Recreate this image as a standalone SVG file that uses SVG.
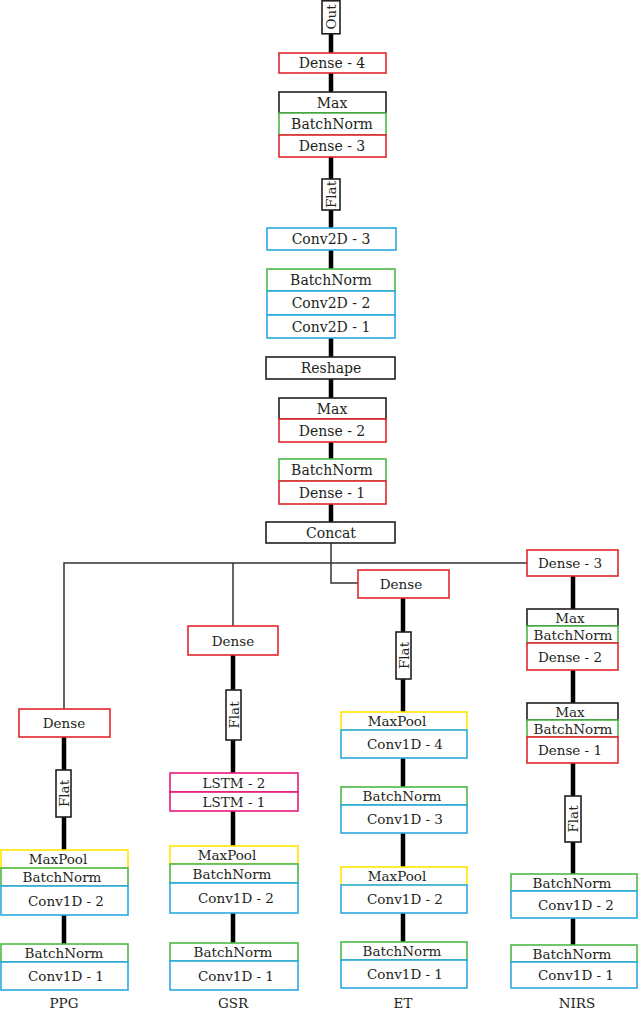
<svg xmlns="http://www.w3.org/2000/svg" width="638" height="1011" viewBox="0 0 638 1011">
<style>
.b{fill:#fff;stroke-width:1.6}
.k{stroke:#231f20}.r{stroke:#e2262c}.g{stroke:#4db848}.c{stroke:#2aa9e0}.y{stroke:#ffe600}.p{stroke:#e8197b}
.t{font-family:"DejaVu Serif","Liberation Serif",serif;font-size:14px;fill:#231f20;text-anchor:middle;dominant-baseline:central}
.s{font-size:13.5px}
.thick{stroke:#000;stroke-width:4.5;fill:none}
.thin{stroke:#333;stroke-width:1.5;fill:none}
</style>
<g id="connectors">
<path class="thick" d="M331 34V522"/>
<path class="thick" d="M64 737V944"/>
<path class="thick" d="M233 655V943"/>
<path class="thick" d="M403 598V942"/>
<path class="thick" d="M573 576V945"/>
<path class="thin" d="M331 543V583H358"/>
<path class="thin" d="M64 709V563H527"/>
<path class="thin" d="M233 563V626"/>
</g>
<g id="out"><rect class="b k" x="322" y="0.8" width="18" height="33"/><text class="t s" transform="translate(331 17) rotate(-90)">Out</text></g>
<g id="dense4"><rect class="b r" x="279" y="53" width="107" height="20"/><text class="t" x="332" y="63">Dense - 4</text></g>
<g id="max3"><rect class="b k" x="279" y="92" width="107" height="21"/><text class="t" x="332" y="102.5">Max</text></g>
<g id="bn3"><rect class="b g" x="279" y="113" width="107" height="22"/><text class="t" x="332" y="124">BatchNorm</text></g>
<g id="dense3"><rect class="b r" x="279" y="135" width="107" height="22"/><text class="t" x="332" y="146">Dense - 3</text></g>
<g id="flatTop"><rect class="b k" x="322" y="179" width="18" height="31"/><text class="t s" transform="translate(331 194.5) rotate(-90)">Flat</text></g>
<g id="conv2d3"><rect class="b c" x="267" y="228" width="129" height="22"/><text class="t" x="331" y="239">Conv2D - 3</text></g>
<g id="bn2d"><rect class="b g" x="267" y="269" width="128" height="22"/><text class="t" x="331" y="280">BatchNorm</text></g>
<g id="conv2d2"><rect class="b c" x="267" y="291" width="128" height="24"/><text class="t" x="331" y="303">Conv2D - 2</text></g>
<g id="conv2d1"><rect class="b c" x="267" y="315" width="128" height="23"/><text class="t" x="331" y="326.5">Conv2D - 1</text></g>
<g id="reshape"><rect class="b k" x="266" y="357" width="129" height="22"/><text class="t" x="331" y="368">Reshape</text></g>
<g id="max2"><rect class="b k" x="279" y="398" width="107" height="21"/><text class="t" x="332" y="408.5">Max</text></g>
<g id="dense2"><rect class="b r" x="279" y="419" width="107" height="23"/><text class="t" x="332" y="430.5">Dense - 2</text></g>
<g id="bn1"><rect class="b g" x="279" y="459" width="107" height="22"/><text class="t" x="332" y="470">BatchNorm</text></g>
<g id="dense1"><rect class="b r" x="279" y="481" width="107" height="23"/><text class="t" x="332" y="492.5">Dense - 1</text></g>
<g id="concat"><rect class="b k" x="266" y="522" width="129" height="21"/><text class="t" x="331" y="532.5">Concat</text></g>
<g id="ppgDense"><rect class="b r" x="19" y="709" width="91" height="28"/><text class="t s" x="64" y="723">Dense</text></g>
<g id="ppgFlat"><rect class="b k" x="56" y="770" width="15" height="47"/><text class="t s" transform="translate(63.5 793.5) rotate(-90)">Flat</text></g>
<g id="ppgMaxPool"><rect class="b y" x="1" y="850" width="127" height="18"/><text class="t s" x="58" y="859">MaxPool</text></g>
<g id="ppgBN2"><rect class="b g" x="1" y="868" width="127" height="18"/><text class="t s" x="62" y="877">BatchNorm</text></g>
<g id="ppgConv2"><rect class="b c" x="1" y="886" width="127" height="29"/><text class="t s" x="66" y="900.5">Conv1D - 2</text></g>
<g id="ppgBN1"><rect class="b g" x="1" y="944" width="127" height="18"/><text class="t s" x="64" y="953">BatchNorm</text></g>
<g id="ppgConv1"><rect class="b c" x="1" y="962" width="127" height="28"/><text class="t s" x="66" y="976">Conv1D - 1</text></g>
<text class="t s" x="64" y="1003">PPG</text>
<g id="gsrDense"><rect class="b r" x="188" y="626" width="90" height="29"/><text class="t s" x="233" y="640.5">Dense</text></g>
<g id="gsrFlat"><rect class="b k" x="226" y="690" width="15" height="50"/><text class="t s" transform="translate(233.5 715) rotate(-90)">Flat</text></g>
<g id="gsrLstm2"><rect class="b p" x="170" y="773" width="128" height="19"/><text class="t s" x="234" y="782.5">LSTM - 2</text></g>
<g id="gsrLstm1"><rect class="b p" x="170" y="792" width="128" height="19"/><text class="t s" x="234" y="801.5">LSTM - 1</text></g>
<g id="gsrMaxPool"><rect class="b y" x="170" y="846" width="128" height="18"/><text class="t s" x="227" y="855">MaxPool</text></g>
<g id="gsrBN2"><rect class="b g" x="170" y="864" width="128" height="19"/><text class="t s" x="232" y="873.5">BatchNorm</text></g>
<g id="gsrConv2"><rect class="b c" x="170" y="883" width="128" height="30"/><text class="t s" x="236" y="898">Conv1D - 2</text></g>
<g id="gsrBN1"><rect class="b g" x="170" y="943" width="128" height="18"/><text class="t s" x="233" y="952">BatchNorm</text></g>
<g id="gsrConv1"><rect class="b c" x="170" y="961" width="128" height="29"/><text class="t s" x="236" y="975.5">Conv1D - 1</text></g>
<text class="t s" x="233" y="1003">GSR</text>
<g id="etDense"><rect class="b r" x="358" y="570" width="91" height="28"/><text class="t s" x="401" y="584">Dense</text></g>
<g id="etFlat"><rect class="b k" x="396" y="632" width="15" height="47"/><text class="t s" transform="translate(403.5 655.5) rotate(-90)">Flat</text></g>
<g id="etMaxPool4"><rect class="b y" x="341" y="712" width="126" height="18"/><text class="t s" x="397" y="721">MaxPool</text></g>
<g id="etConv4"><rect class="b c" x="341" y="730" width="126" height="28"/><text class="t s" x="405" y="744">Conv1D - 4</text></g>
<g id="etBN3"><rect class="b g" x="341" y="787" width="126" height="18"/><text class="t s" x="402" y="796">BatchNorm</text></g>
<g id="etConv3"><rect class="b c" x="341" y="805" width="126" height="28"/><text class="t s" x="405" y="819">Conv1D - 3</text></g>
<g id="etMaxPool2"><rect class="b y" x="341" y="867" width="126" height="18"/><text class="t s" x="397" y="876">MaxPool</text></g>
<g id="etConv2"><rect class="b c" x="341" y="885" width="126" height="28"/><text class="t s" x="405" y="899">Conv1D - 2</text></g>
<g id="etBN1"><rect class="b g" x="341" y="942" width="126" height="18"/><text class="t s" x="402" y="951">BatchNorm</text></g>
<g id="etConv1"><rect class="b c" x="341" y="960" width="126" height="28"/><text class="t s" x="405" y="974">Conv1D - 1</text></g>
<text class="t s" x="403" y="1003">ET</text>
<g id="nirsDense3"><rect class="b r" x="527" y="550" width="91" height="26"/><text class="t s" x="570" y="563">Dense - 3</text></g>
<g id="nirsMax2"><rect class="b k" x="527" y="609" width="91" height="17"/><text class="t s" x="570" y="617.5">Max</text></g>
<g id="nirsBN2"><rect class="b g" x="527" y="626" width="91" height="17"/><text class="t s" x="573" y="634.5">BatchNorm</text></g>
<g id="nirsDense2"><rect class="b r" x="527" y="643" width="91" height="27"/><text class="t s" x="570" y="656.5">Dense - 2</text></g>
<g id="nirsMax1"><rect class="b k" x="527" y="703" width="91" height="17"/><text class="t s" x="570" y="711.5">Max</text></g>
<g id="nirsBN1"><rect class="b g" x="527" y="720" width="91" height="17"/><text class="t s" x="573" y="728.5">BatchNorm</text></g>
<g id="nirsDense1"><rect class="b r" x="527" y="737" width="91" height="26"/><text class="t s" x="570" y="750">Dense - 1</text></g>
<g id="nirsFlat"><rect class="b k" x="565" y="796" width="16" height="46"/><text class="t s" transform="translate(573 819) rotate(-90)">Flat</text></g>
<g id="nirsBNb"><rect class="b g" x="511" y="874" width="126" height="17"/><text class="t s" x="572" y="882.5">BatchNorm</text></g>
<g id="nirsConv2"><rect class="b c" x="511" y="891" width="126" height="27"/><text class="t s" x="576" y="904.5">Conv1D - 2</text></g>
<g id="nirsBNa"><rect class="b g" x="511" y="945" width="126" height="17"/><text class="t s" x="572" y="953.5">BatchNorm</text></g>
<g id="nirsConv1"><rect class="b c" x="511" y="962" width="126" height="26"/><text class="t s" x="576" y="975">Conv1D - 1</text></g>
<text class="t s" x="577" y="1003">NIRS</text>
</svg>
